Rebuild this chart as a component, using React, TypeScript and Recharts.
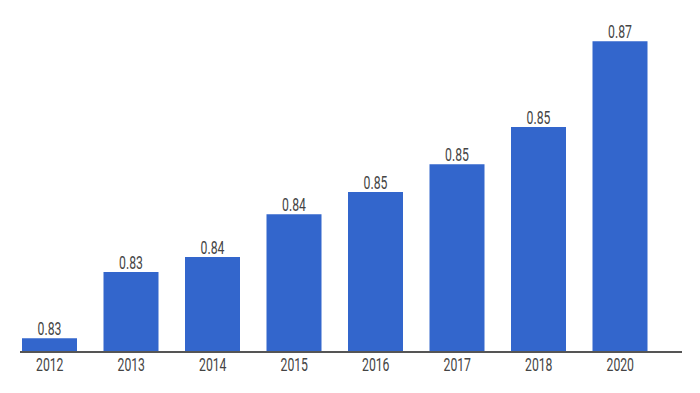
import { BarChart, Bar, XAxis, YAxis, LabelList } from 'recharts'

const years = ['2012', '2013', '2014', '2015', '2016', '2017', '2018', '2020']
const values = [0.8221, 0.8323, 0.8346, 0.8412, 0.8446, 0.8489, 0.8546, 0.8678]
const shownLabels = ['0.83', '0.83', '0.84', '0.84', '0.85', '0.85', '0.85', '0.87']

const data = years.map((year, i) => ({
  year,
  value: values[i],
  label: shownLabels[i],
}))

const font = 'Roboto, "Liberation Sans", Arial, sans-serif'
const squeeze = 0.68

// condensed-looking text: plain Roboto pinched horizontally
const NarrowText = ({ x, y, text }: { x: number; y: number; text: string }) => (
  <text
    transform={`translate(${x},${y}) scale(${squeeze},1)`}
    textAnchor="middle"
    fill="#444"
    fontSize={18}
    fontFamily={font}
  >
    {text}
  </text>
)

const YearTick = (props: any) => {
  const { x, payload } = props
  return <NarrowText x={x} y={371} text={payload.value} />
}

const BarLabel = (props: any) => {
  const { x, y, width, value } = props
  return <NarrowText x={Number(x) + Number(width) / 2} y={Number(y) - 3} text={String(value)} />
}

const App = () => {
  return (
    <div
      style={{
        position: 'absolute',
        left: 0,
        top: 0,
        width: 700,
        height: 393,
        background: '#fff',
      }}
    >
      <BarChart
        width={700}
        height={393}
        data={data}
        margin={{ top: 27, right: 39, bottom: 11, left: 9 }}
      >
        <XAxis
          dataKey="year"
          height={30}
          axisLine={false}
          tickLine={false}
          tick={<YearTick />}
          interval={0}
        />
        <YAxis hide domain={[0.82, 0.87]} allowDataOverflow />
        <Bar
          dataKey="value"
          fill="#3366cc"
          barSize={55}
          isAnimationActive={false}
        >
          <LabelList dataKey="label" content={<BarLabel />} />
        </Bar>
      </BarChart>
      <div
        style={{
          position: 'absolute',
          left: 20,
          top: 351,
          width: 662,
          height: 2,
          background: '#555',
        }}
      />
    </div>
  )
}

export default App
